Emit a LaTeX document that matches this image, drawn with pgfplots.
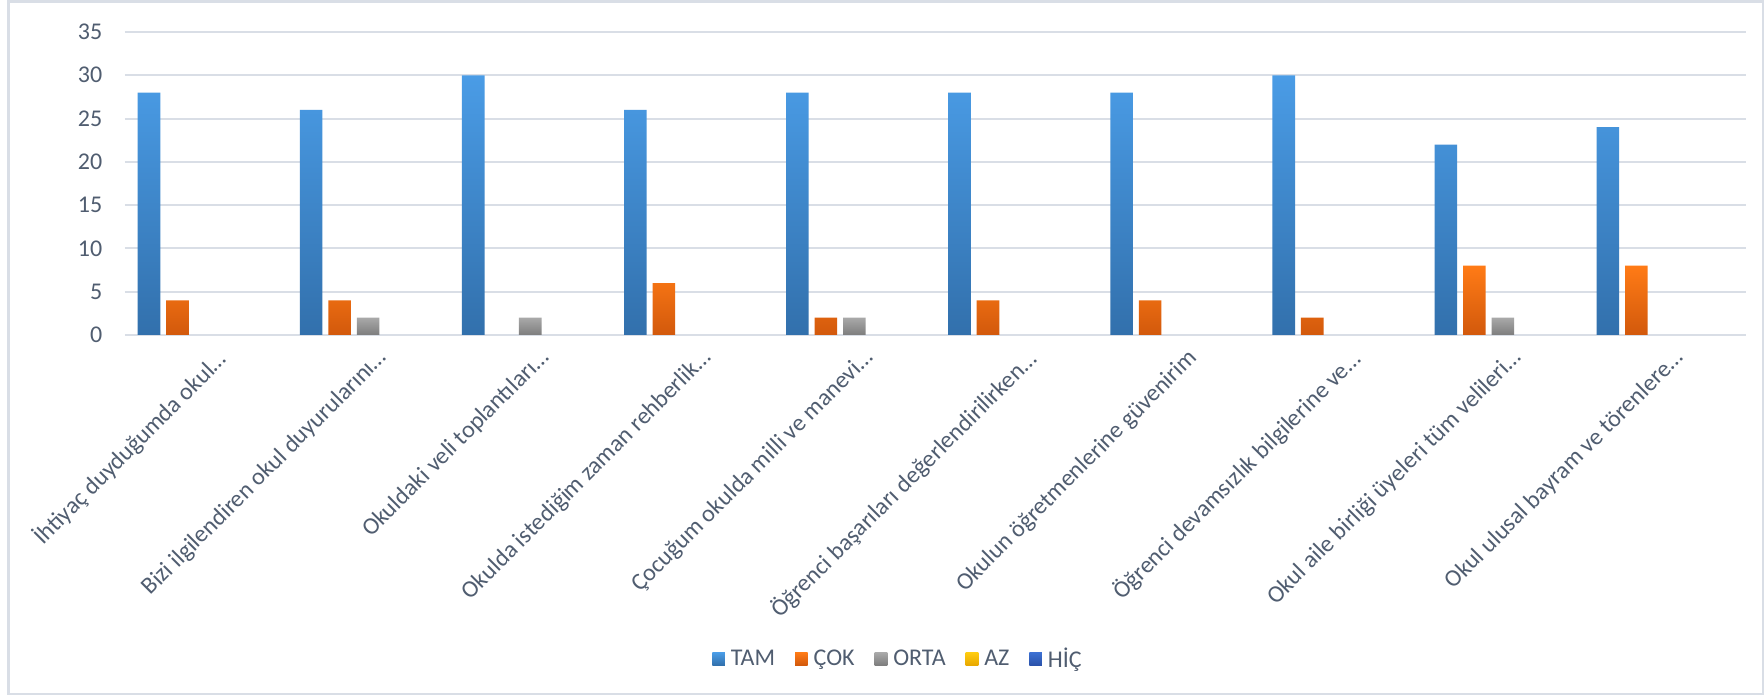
\documentclass[border=0pt]{standalone}
\usepackage{pgfplots}
\pgfplotsset{compat=1.18}
\usepackage{fontspec}
\setmainfont{Carlito}
\newcommand{\dd}{…}
\definecolor{txt}{HTML}{505D70}
\definecolor{gridc}{HTML}{D9DEE6}
\definecolor{tamT}{HTML}{4A9CE6}
\definecolor{tamB}{HTML}{3270AC}
\definecolor{cokT}{HTML}{FF7B16}
\definecolor{cokB}{HTML}{D2590C}
\definecolor{ortT}{HTML}{A9A9A9}
\definecolor{ortB}{HTML}{7D7D7D}
\definecolor{azT}{HTML}{FFCC10}
\definecolor{azB}{HTML}{E8A800}
\definecolor{hicT}{HTML}{3C70D2}
\definecolor{hicB}{HTML}{2A52AA}
\begin{document}
\begin{tikzpicture}
\useasboundingbox (0,0) rectangle (1764pt,695pt);
\fill[white] (0,0) rectangle (1764pt,695pt);
\draw[gridc, line width=2.5pt] (8.3pt,1pt) rectangle (1763pt,693.3pt);
\begin{axis}[
  at={(125pt,360pt)}, anchor=south west,
  width=1621pt, height=303pt, scale only axis,
  xmin=-0.5, xmax=9.5, ymin=0, ymax=35,
  ytick={0,5,...,35},
  xtick={0,...,9},
  xticklabels={{İhtiyaç duyduğumda okul\dd},{Bizi ilgilendiren okul duyurularını\dd},{Okuldaki veli toplantıları\dd},{Okulda istediğim zaman rehberlik\dd},{Çocuğum okulda milli ve manevi\dd},{Öğrenci başarıları değerlendirilirken\dd},{Okulun öğretmenlerine güvenirim},{Öğrenci devamsızlık bilgilerine ve\dd},{Okul aile birliği üyeleri tüm velileri\dd},{Okul ulusal bayram ve törenlere\dd}},
  ymajorgrids, grid style={gridc, line width=2pt},
  axis line style={draw=none},
  major tick length=0pt,
  ybar=5.9pt, bar width=22.6pt,
  tick label style={font=\fontsize{24}{29}\selectfont, text=txt},
  /pgf/number format/assume math mode=true,
  yticklabel style={inner sep=0pt, xshift=-22.5pt},
  xticklabel style={rotate=45, anchor=north east, inner sep=0pt, xshift=-3pt, yshift=-14pt},
  legend columns=-1,
  legend style={at={(0.4769,-1.069)}, anchor=center, draw=none, fill=none,
    font=\fontsize{24}{29}\selectfont, text=txt,
    /tikz/every odd column/.append style={column sep=4pt},
    /tikz/every even column/.append style={column sep=18pt}},
  legend image code/.code={\fill[#1] (0pt,-6.3pt) rectangle (12.6pt,6.3pt);},
]
\addplot[draw=none, top color=tamT, bottom color=tamB] coordinates {(0,28) (1,26) (2,30) (3,26) (4,28) (5,28) (6,28) (7,30) (8,22) (9,24)};
\addplot[draw=none, top color=cokT, bottom color=cokB] coordinates {(0,4) (1,4) (3,6) (4,2) (5,4) (6,4) (7,2) (8,8) (9,8)};
\addplot[draw=none, top color=ortT, bottom color=ortB] coordinates {(1,2) (2,2) (4,2) (8,2)};
\addplot[draw=none, fill=none, legend image code/.code={\fill[top color=azT, bottom color=azB] (0pt,-6.3pt) rectangle (12.6pt,6.3pt);}] coordinates {(0,0) (1,0) (2,0) (3,0) (4,0) (5,0) (6,0) (7,0) (8,0) (9,0)};
\addplot[draw=none, fill=none, legend image code/.code={\fill[top color=hicT, bottom color=hicB] (0pt,-6.3pt) rectangle (12.6pt,6.3pt);}] coordinates {(0,0) (1,0) (2,0) (3,0) (4,0) (5,0) (6,0) (7,0) (8,0) (9,0)};
\legend{TAM,ÇOK,ORTA,AZ,HİÇ}
\end{axis}
\end{tikzpicture}
\end{document}
